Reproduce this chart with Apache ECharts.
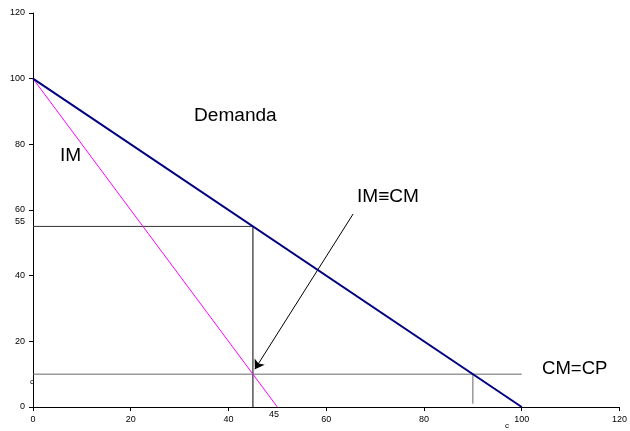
<!DOCTYPE html>
<html>
<head>
<meta charset="utf-8">
<script src="https://cdn.jsdelivr.net/npm/echarts@6/dist/echarts.min.js"></script>
<style>
html,body{margin:0;padding:0;background:#fff;}
#chart{width:630px;height:431px;}
</style>
</head>
<body>
<div id="chart"></div>
<script>
// Data
var xTicks = [0, 20, 40, 60, 80, 100, 120];
var yTicks = [0, 20, 40, 60, 80, 100, 120];
var demandX = [0, 100];
var demandY = [100, 0];
var imX = [0, 50];
var imY = [100, 0];
var priceLineX = [0, 45];
var priceLineY = [55, 55];
var qtyLineX = [45, 45];
var qtyLineY = [55, 0];
var cmLineX = [0, 100];
var cmLineY = [10, 10];
var compLineX = [90, 90];
var compLineY = [10, 1];
var arrowFrom = [65.5, 58.8];
var arrowTo = [45.4, 11.5];

function pairs(xs, ys) { return xs.map(function (x, i) { return [x, ys[i]]; }); }

var chart = echarts.init(document.getElementById('chart'));
var font = 'Liberation Sans, Arial, sans-serif';
var option = {
  animation: false,
  grid: { left: 33, right: 5, top: 13, bottom: 24 },
  xAxis: {
    type: 'value', min: xTicks[0], max: xTicks[xTicks.length - 1], interval: 20,
    splitLine: { show: false },
    axisLine: { onZero: false, lineStyle: { color: '#000', width: 1 } },
    axisTick: { show: true, length: 4, lineStyle: { color: '#000' } },
    axisLabel: { fontSize: 9, color: '#000', fontFamily: font, margin: 8 }
  },
  yAxis: {
    type: 'value', min: yTicks[0], max: yTicks[yTicks.length - 1], interval: 20,
    splitLine: { show: false },
    axisLine: { show: true, onZero: false, lineStyle: { color: '#000', width: 1 } },
    axisTick: { show: true, length: 4, lineStyle: { color: '#000' } },
    axisLabel: { fontSize: 9, color: '#000', fontFamily: font, margin: 8 }
  },
  series: [
    { type: 'line', data: pairs(priceLineX, priceLineY), symbol: 'none', lineStyle: { color: '#333', width: 1 } },
    { type: 'line', data: pairs(qtyLineX, qtyLineY), symbol: 'none', lineStyle: { color: '#000', width: 1 } },
    { type: 'line', data: pairs(cmLineX, cmLineY), symbol: 'none', lineStyle: { color: '#666', width: 1 } },
    { type: 'line', data: pairs(compLineX, compLineY), symbol: 'none', lineStyle: { color: '#666', width: 1 } },
    { type: 'line', data: pairs(imX, imY), symbol: 'none', lineStyle: { color: '#ff00ff', width: 1 } },
    { type: 'line', data: pairs(demandX, demandY), symbol: 'none', lineStyle: { color: '#000080', width: 2 } },
    {
      type: 'lines', coordinateSystem: 'cartesian2d',
      symbol: ['none', 'arrow'], symbolSize: 9,
      lineStyle: { color: '#000', width: 1, opacity: 1 },
      data: [{ coords: [arrowFrom, arrowTo] }]
    }
  ],
  graphic: [
    { type: 'text', left: 194, top: 107, scaleX: 1.06, style: { text: 'Demanda', font: '18px ' + font, fill: '#000' } },
    { type: 'text', left: 60, top: 147, scaleX: 1.06, style: { text: 'IM', font: '18px ' + font, fill: '#000' } },
    { type: 'text', left: 357, top: 188, scaleX: 1.06, style: { text: 'IM≡CM', font: '18px ' + font, fill: '#000' } },
    { type: 'text', left: 542, top: 360, scaleX: 1.03, style: { text: 'CM=CP', font: '18px ' + font, fill: '#000' } },
    { type: 'text', right: 605, top: 217, style: { text: '55', font: '9px ' + font, fill: '#000' } },
    { type: 'text', left: 269, top: 410, style: { text: '45', font: '9px ' + font, fill: '#000' } },
    { type: 'text', left: 505, top: 422, style: { text: 'c', font: '8px ' + font, fill: '#000' } },
    { type: 'text', left: 30, top: 378, style: { text: 'c', font: '8px ' + font, fill: '#000' } }
  ]
};
chart.setOption(option);
</script>
</body>
</html>
